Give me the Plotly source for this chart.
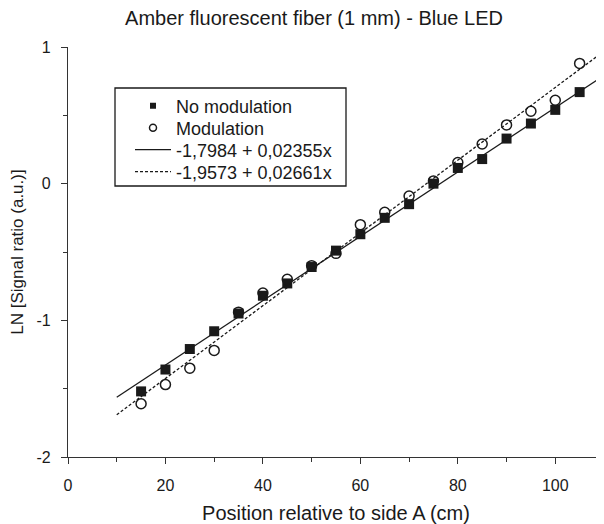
import plotly.graph_objects as go

positions = [15, 20, 25, 30, 35, 40, 45, 50, 55, 60, 65, 70, 75, 80, 85, 90, 95, 100, 105]
no_modulation = [-1.52, -1.36, -1.21, -1.08, -0.95, -0.82, -0.73, -0.61, -0.49, -0.37,
                 -0.25, -0.15, 0.00, 0.115, 0.18, 0.33, 0.44, 0.54, 0.67]
modulation = [-1.61, -1.47, -1.35, -1.22, -0.94, -0.80, -0.70, -0.60, -0.51, -0.30,
              -0.21, -0.09, 0.02, 0.155, 0.29, 0.43, 0.53, 0.61, 0.88]
fit_names = ["-1,7984 + 0,02355x", "-1,9573 + 0,02661x"]
fit_intercepts = [-1.7984, -1.9573]
fit_slopes = [0.02355, 0.02661]
fit_x = [10, 110]
x_ticks = [0, 20, 40, 60, 80, 100]
y_ticks = [-2, -1, 0, 1]
y_ticklabels = ["-2", "-1", "0", "1"]

FONT = "Liberation Sans, Arial, sans-serif"
INK = "#1a1a1a"
AX = "#333"

# The page adds an 8px body margin, so the figure is 596x516 and coordinates below are
# figure pixels (= screen pixels - 8).
W, H = 596, 516
L, R, T, B = 60, 596, 39, 449
pw, ph = R - L, B - T
def px_x(p):
    return (p - L) / pw
def px_y(p):
    return (B - p) / ph

fig = go.Figure()
fig.add_trace(go.Scatter(x=positions, y=no_modulation, mode="markers", showlegend=False,
                         marker=dict(symbol="square", size=10, color=INK, line=dict(width=0))))
fig.add_trace(go.Scatter(x=positions, y=modulation, mode="markers", showlegend=False,
                         marker=dict(symbol="circle-open", size=10, color=INK,
                                     line=dict(width=1.5, color=INK))))
fig.add_trace(go.Scatter(x=[None], y=[None], mode="markers", name="No modulation",
                         legend="legend",
                         marker=dict(symbol="square", size=6, color=INK, line=dict(width=0))))
fig.add_trace(go.Scatter(x=[None], y=[None], mode="markers", name="Modulation",
                         legend="legend2",
                         marker=dict(symbol="circle-open", size=7, color=INK,
                                     line=dict(width=1.5, color=INK))))
dashes = ["solid", "3px,2px"]
for name, a, b, d, lg in zip(fit_names, fit_intercepts, fit_slopes, dashes,
                             ["legend3", "legend4"]):
    fig.add_trace(go.Scatter(x=fit_x, y=[a + b * xv for xv in fit_x], mode="lines", name=name,
                             legend=lg, line=dict(color=INK, width=1.3, dash=d)))

def legend_at(row_y):
    return dict(x=px_x(122), y=px_y(row_y), xanchor="left", yanchor="middle",
                borderwidth=0, bgcolor="rgba(0,0,0,0)",
                font=dict(size=18, family=FONT, color=INK), itemwidth=36)

fig.update_layout(
    width=W, height=H,
    margin=dict(l=L, r=W - R, t=T, b=H - B),
    paper_bgcolor="white", plot_bgcolor="white",
    font=dict(family=FONT, color=INK, size=16),
    title=dict(text="Amber fluorescent fiber (1 mm) - Blue LED", x=306 / W, xanchor="center",
               y=1 - 10 / H, yanchor="middle", font=dict(size=20, family=FONT, color=INK)),
    showlegend=True,
    legend=legend_at(98),
    legend2=legend_at(120),
    legend3=legend_at(142),
    legend4=legend_at(164),
    shapes=[dict(type="rect", xref="paper", yref="paper",
                 x0=px_x(107), x1=px_x(338), y0=px_y(178), y1=px_y(80),
                 line=dict(color=INK, width=1.3), fillcolor="rgba(0,0,0,0)")],
)
fig.update_xaxes(range=[0, 110], tickvals=x_ticks, showgrid=False, zeroline=False,
                 automargin=False,
                 showline=True, linecolor=AX, linewidth=1.3,
                 ticks="outside", ticklen=6, tickcolor=AX, tickwidth=1.3, ticklabelstandoff=8,
                 minor=dict(ticks="outside", dtick=10, ticklen=4, tickcolor=AX, tickwidth=1.3),
                 tickfont=dict(size=16), title=dict(text="Position relative to side A (cm)",
                                                    font=dict(size=20), standoff=12))
fig.update_yaxes(range=[-2, 1], tickvals=y_ticks, ticktext=y_ticklabels, showgrid=False,
                 zeroline=False, automargin=False, showline=True, linecolor=AX, linewidth=1.3,
                 ticks="outside", ticklen=6, tickcolor=AX, tickwidth=1.3, ticklabelstandoff=7,
                 minor=dict(ticks="outside", dtick=0.5, ticklen=4, tickcolor=AX, tickwidth=1.3),
                 tickfont=dict(size=16), title=dict(text="LN [Signal ratio (a.u.)]",
                                                    font=dict(size=17), standoff=15))

fig.write_html("out.html")
